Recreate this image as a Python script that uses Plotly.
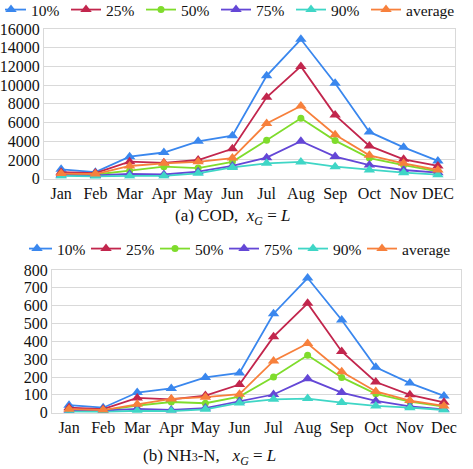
import plotly.graph_objects as go

months_a = ["Jan", "Feb", "Mar", "Apr", "May", "Jun", "Jul", "Aug", "Sep", "Oct", "Nov", "DEC"]
months_b = ["Jan", "Feb", "Mar", "Apr", "May", "Jun", "Jul", "Aug", "Sep", "Oct", "Nov", "Dec"]
series_names = ["10%", "25%", "50%", "75%", "90%", "average"]

cod_10 = [1000, 700, 2350, 2800, 4000, 4600, 11000, 14900, 10200, 5000, 3350, 1900]
cod_25 = [700, 600, 1820, 1700, 2000, 3200, 8700, 12000, 6800, 3500, 2070, 1360]
cod_50 = [450, 450, 860, 1290, 1140, 1800, 4100, 6450, 4070, 2200, 1460, 790]
cod_75 = [400, 350, 500, 450, 750, 1360, 2250, 4000, 2360, 1460, 930, 640]
cod_90 = [300, 250, 300, 300, 570, 1200, 1640, 1790, 1290, 930, 640, 430]
cod_avg = [550, 500, 1360, 1640, 1800, 2200, 5900, 7770, 4700, 2500, 1640, 930]

nh_10 = [42, 28, 113, 136, 198, 223, 555, 755, 520, 255, 166, 94]
nh_25 = [28, 20, 83, 75, 96, 158, 426, 613, 343, 172, 100, 58]
nh_50 = [15, 13, 40, 60, 53, 90, 200, 322, 198, 106, 62, 34]
nh_75 = [12, 12, 22, 15, 26, 64, 102, 190, 113, 66, 36, 19]
nh_90 = [6, 5, 11, 9, 19, 55, 75, 79, 57, 38, 28, 15]
nh_avg = [20, 15, 47, 77, 87, 104, 290, 388, 230, 119, 68, 38]

cod_ticks = [0, 2000, 4000, 6000, 8000, 10000, 12000, 14000, 16000]
nh_ticks = [0, 100, 200, 300, 400, 500, 600, 700, 800]

colors = ["#3a87ee", "#c2264d", "#7fdc2c", "#6447d6", "#3fd6c6", "#f7803c"]
symbols = ["triangle-up", "triangle-up", "circle", "triangle-up", "triangle-up", "triangle-up"]
sizes = [10, 10, 7, 10, 10, 10]

FONT = "Liberation Serif"
W, H = 473, 469

fig = go.Figure()

cod_series = [cod_10, cod_25, cod_50, cod_75, cod_90, cod_avg]
nh_series = [nh_10, nh_25, nh_50, nh_75, nh_90, nh_avg]

for i, name in enumerate(series_names):
    fig.add_trace(go.Scatter(
        x=months_a, y=cod_series[i], name=name, mode="lines+markers",
        line=dict(color=colors[i], width=1.8),
        marker=dict(symbol=symbols[i], size=sizes[i], color=colors[i]),
        legendwidth=(55 if name == "average" else None),
        xaxis="x", yaxis="y", legend="legend"))
for i, name in enumerate(series_names):
    fig.add_trace(go.Scatter(
        x=months_b, y=nh_series[i], name=name, mode="lines+markers",
        line=dict(color=colors[i], width=1.8),
        marker=dict(symbol=symbols[i], size=sizes[i], color=colors[i]),
        legendwidth=(55 if name == "average" else None),
        xaxis="x2", yaxis="y2", legend="legend2"))

def px_x(p):
    return p / W

def px_y(p):
    return 1 - p / H

grid = "#d9d9d9"
axis_common = dict(showline=True, mirror=True, linecolor=grid, linewidth=1,
                   tickfont=dict(family=FONT, size=16, color="#111"), ticks="")

fig.update_layout(
    width=W, height=H,
    margin=dict(l=0, r=0, t=0, b=0, autoexpand=False),
    paper_bgcolor="white", plot_bgcolor="white",
    font=dict(family=FONT, size=15, color="#111"),
    xaxis=dict(domain=[px_x(44), px_x(455)], anchor="y", type="category",
               range=[-0.5, 11.5], showgrid=False, automargin=False, **axis_common),
    yaxis=dict(domain=[px_y(178.7), px_y(29)], anchor="x", range=[0, 16000],
               tickvals=cod_ticks, tickformat="d", showgrid=True, gridcolor=grid,
               zeroline=False, automargin=False, **axis_common),
    xaxis2=dict(domain=[px_x(52), px_x(461)], anchor="y2", type="category",
                range=[-0.5, 11.5], showgrid=False, automargin=False, **axis_common),
    yaxis2=dict(domain=[px_y(412.7), px_y(270)], anchor="x2", range=[0, 800],
                tickvals=nh_ticks, tickformat="d", showgrid=True, gridcolor=grid,
                zeroline=False, automargin=False, **axis_common),
    legend=dict(orientation="h", x=px_x(5), xanchor="left", y=px_y(10), yanchor="middle",
                font=dict(family=FONT, size=15.5, color="#111"),
                indentation=-14,
                entrywidth=44, entrywidthmode="pixels", bgcolor="rgba(0,0,0,0)",
                tracegroupgap=0),
    legend2=dict(orientation="h", x=px_x(29), xanchor="left", y=px_y(249), yanchor="middle",
                 font=dict(family=FONT, size=15.5, color="#111"),
                 indentation=-12,
                 entrywidth=36, entrywidthmode="pixels", bgcolor="rgba(0,0,0,0)",
                 tracegroupgap=0),
    showlegend=True,
)

fig.add_annotation(text="(a) COD,  <i>x</i><sub><i>G</i></sub> = <i>L</i>",
                   x=px_x(232), y=px_y(217), xref="paper", yref="paper",
                   xanchor="center", yanchor="middle", showarrow=False,
                   font=dict(family=FONT, size=17, color="#111"))
fig.add_annotation(text="(b) NH<span style='font-size:12px'>3</span>-N,   <i>x</i><sub><i>G</i></sub> = <i>L</i>",
                   x=px_x(209), y=px_y(457), xref="paper", yref="paper",
                   xanchor="center", yanchor="middle", showarrow=False,
                   font=dict(family=FONT, size=17, color="#111"))

fig.write_html("out.html",
               config={"displayModeBar": False},
               post_script="document.body.style.margin='0';document.body.style.overflow='hidden';")
